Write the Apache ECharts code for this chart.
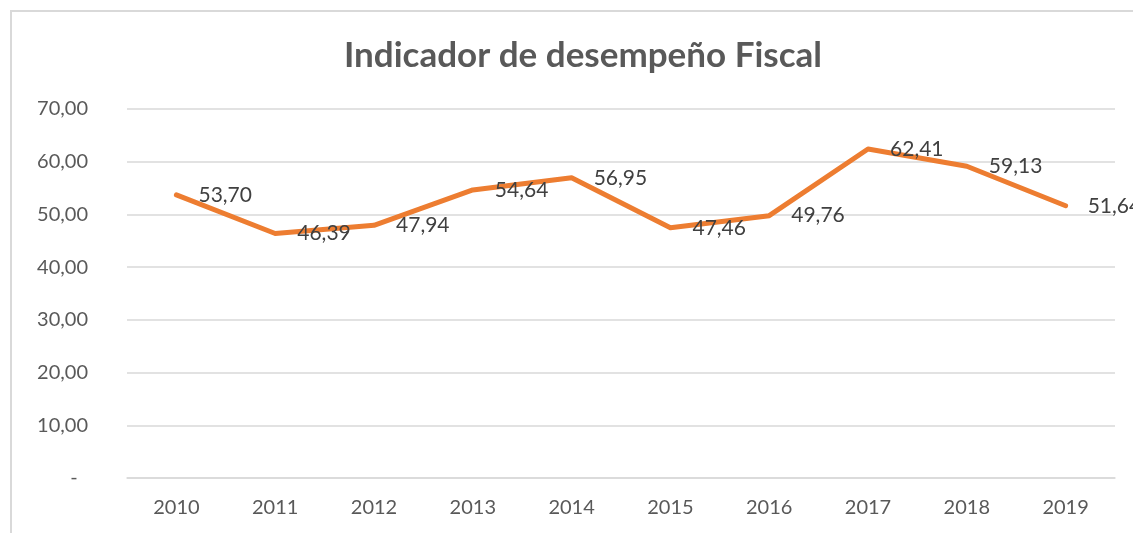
<!DOCTYPE html>
<html>
<head>
<meta charset="utf-8">
<script src="https://cdn.jsdelivr.net/npm/echarts@6/dist/echarts.min.js"></script>
<style>
  html, body { margin: 0; padding: 0; background: #fff; }
  #chart { width: 1133px; height: 533px; }
</style>
</head>
<body>
<div id="chart"></div>
<script>
var years = ["2010", "2011", "2012", "2013", "2014", "2015", "2016", "2017", "2018", "2019"];
var desempeno = [53.70, 46.39, 47.94, 54.64, 56.95, 47.46, 49.76, 62.41, 59.13, 51.64];

function fmt(v) {
  return v.toFixed(2).replace(".", ",");
}

var myChart = echarts.init(document.getElementById("chart"), null, { renderer: "canvas" });

var option = {
  animation: false,
  textStyle: { fontFamily: "Lato" },
  title: {
    text: "Indicador de desempeño Fiscal",
    top: 33,
    left: 578,
    textAlign: "center",
    textStyle: { fontSize: 35, fontWeight: "bold", color: "#595959", fontFamily: "Lato" }
  },
  graphic: [
    {
      type: "rect",
      shape: { x: 11, y: 11, width: 1300, height: 700 },
      style: { fill: null, stroke: "#d9d9d9", lineWidth: 2 },
      silent: true
    }
  ],
  grid: { left: 127, right: 18, top: 109, bottom: 55 },
  xAxis: {
    type: "category",
    data: years,
    boundaryGap: true,
    axisLine: { lineStyle: { color: "#d9d9d9", width: 1.5 } },
    axisTick: { show: false },
    axisLabel: { color: "#595959", fontSize: 20, margin: 20 }
  },
  yAxis: {
    type: "value",
    min: 0,
    max: 70,
    interval: 10,
    axisLine: { show: false },
    axisTick: { show: false },
    splitLine: { lineStyle: { color: "#d9d9d9", width: 1.5 } },
    axisLabel: {
      color: "#595959",
      fontSize: 20,
      margin: 39,
      formatter: function (v) {
        return v === 0 ? "-  " : fmt(v);
      }
    }
  },
  series: [
    {
      name: "Indicador",
      type: "line",
      data: desempeno,
      symbol: "circle",
      symbolSize: 0.1,
      showSymbol: true,
      lineStyle: { color: "#ED7D31", width: 5, cap: "round", join: "round" },
      itemStyle: { color: "#ED7D31" },
      label: {
        show: true,
        position: "right",
        distance: 22,
        offset: [0, 4],
        color: "#404040",
        fontSize: 21,
        formatter: function (p) { return fmt(p.value); }
      },
      labelLayout: { hideOverlap: false }
    }
  ]
};

myChart.setOption(option);
window.addEventListener("resize", myChart.resize);
</script>
</body>
</html>
